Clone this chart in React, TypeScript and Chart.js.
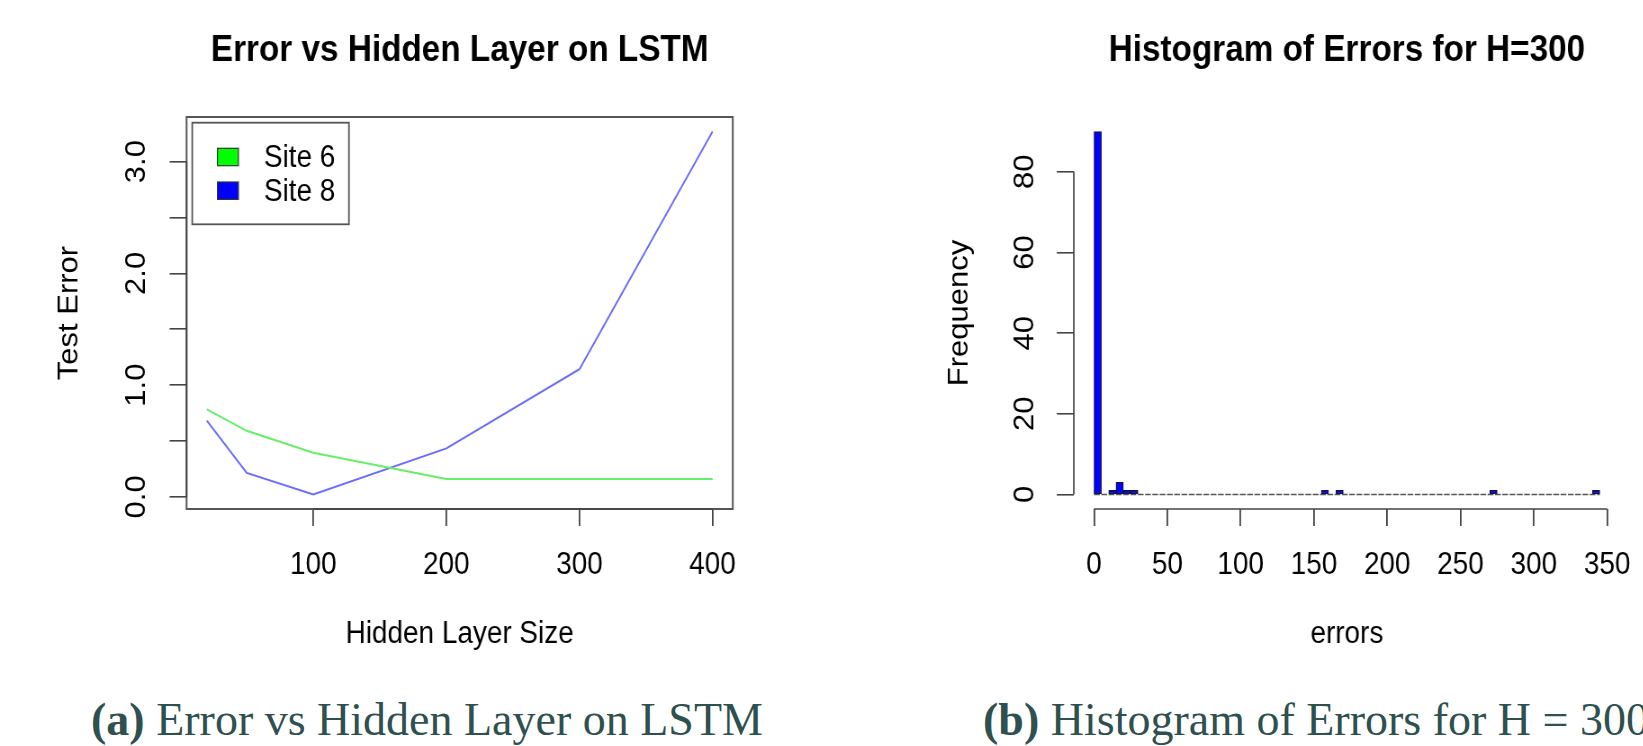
import React, { useEffect, useRef } from 'react';
import { Chart, registerables } from 'chart.js';

Chart.register(...registerables);

// ---------------- data ----------------
const hiddenLayerSizes = [20, 50, 100, 200, 300, 400];
const site6Error = [0.784, 0.592, 0.395, 0.161, 0.161, 0.161];
const site8Error = [0.682, 0.215, 0.022, 0.434, 1.143, 3.269];
const seriesLabels = ['Site 6', 'Site 8'];
const lineXTicks = [100, 200, 300, 400];
const lineYTicks = [0, 0.5, 1, 1.5, 2, 2.5, 3];
const lineYTickLabels = ['0.0', '', '1.0', '', '2.0', '', '3.0'];

const histBinCenters = [2.5, 12.5, 17.5, 22.5, 27.5, 157.5, 167.5, 272.5, 342.5];
const histCounts = [90, 1, 3, 1, 1, 1, 1, 1, 1];
const histRange = [0, 345];
const histXTicks = [0, 50, 100, 150, 200, 250, 300, 350];
const histYTicks = [0, 20, 40, 60, 80];
const histYTickLabels = ['0', '20', '40', '60', '80'];

// ---------------- styles / layout ----------------
const FONT = '"Liberation Sans", Arial, Helvetica, sans-serif';
const SX = 0.9; // horizontal squeeze of the original figure
const CANVAS_H = 690;
const PLOT_BOTTOM = 509;
const AXIS_FONT = 31;
const TITLE_FONT = 37;
const AXIS_COLOR = '#444';
const lineColors = ['#66ee66', '#6b6bff'];
const legendFills = ['#00ff00', '#0000ff'];

const LEFT_W = 911;
const LEFT_PLOT_L = 207.3;
const LEFT_PLOT_R = 814.2;
const RIGHT_W = 960;
const RIGHT_PLOT_L = 282;
const RIGHT_PLOT_R = 888.9;

Chart.defaults.font.family = FONT;
Chart.defaults.color = '#000';

type AxesCfg = {
  xTicks: number[];
  yTicks: number[];
  yLabels: string[];
  yLabelX: number;
  box?: boolean;
  baseline?: number[];
  legend?: boolean;
};

function rAxesPlugin(cfg: AxesCfg) {
  return {
    id: 'rAxes',
    beforeDatasetsDraw(chart: any) {
      if (!cfg.baseline) return;
      const ctx = chart.ctx;
      const x = chart.scales.x;
      const y = chart.scales.y;
      ctx.save();
      ctx.strokeStyle = '#555';
      ctx.lineWidth = 1.6;
      ctx.setLineDash([6.4, 1.7]);
      ctx.beginPath();
      const yy = y.getPixelForValue(0);
      ctx.moveTo(x.getPixelForValue(cfg.baseline[0]), yy);
      ctx.lineTo(x.getPixelForValue(cfg.baseline[1]), yy);
      ctx.stroke();
      ctx.restore();
    },
    afterDraw(chart: any) {
      const ctx = chart.ctx;
      const { left, right, top, bottom } = chart.chartArea;
      const x = chart.scales.x;
      const y = chart.scales.y;
      ctx.save();
      if (cfg.box) {
        ctx.strokeStyle = '#555';
        ctx.lineWidth = 2;
        ctx.strokeRect(left, top, right - left, bottom - top);
      }
      ctx.strokeStyle = AXIS_COLOR;
      ctx.lineWidth = 1.7;
      ctx.beginPath();
      ctx.moveTo(x.getPixelForValue(cfg.xTicks[0]), bottom);
      ctx.lineTo(x.getPixelForValue(cfg.xTicks[cfg.xTicks.length - 1]), bottom);
      ctx.stroke();
      ctx.beginPath();
      ctx.moveTo(left, y.getPixelForValue(cfg.yTicks[0]));
      ctx.lineTo(left, y.getPixelForValue(cfg.yTicks[cfg.yTicks.length - 1]));
      ctx.stroke();

      // rotated y tick labels (R style)
      ctx.fillStyle = '#000';
      ctx.font = `${AXIS_FONT}px ${FONT}`;
      ctx.textAlign = 'center';
      ctx.textBaseline = 'middle';
      cfg.yTicks.forEach((v, i) => {
        const lab = cfg.yLabels[i];
        if (!lab) return;
        ctx.save();
        ctx.translate(cfg.yLabelX, y.getPixelForValue(v));
        ctx.rotate(-Math.PI / 2);
        ctx.fillText(lab, 0, 0);
        ctx.restore();
      });

      if (cfg.legend) {
        const bx = left + 6.3;
        const by = top + 5.7;
        ctx.strokeStyle = '#555';
        ctx.lineWidth = 1.8;
        ctx.strokeRect(bx, by, 174.1, 101.6);
        const rows = [34.3, 68.0];
        chart.data.datasets.forEach((ds: any, i: number) => {
          const cy = by + rows[i];
          ctx.fillStyle = legendFills[i];
          ctx.fillRect(bx + 28, cy - 8.7, 23.3, 17.4);
          ctx.strokeStyle = '#333';
          ctx.lineWidth = 1.2;
          ctx.strokeRect(bx + 28, cy - 8.7, 23.3, 17.4);
          ctx.fillStyle = '#000';
          ctx.textAlign = 'left';
          ctx.textBaseline = 'middle';
          ctx.fillText(ds.label, bx + 79.7, cy + 1.5);
        });
      }
      ctx.restore();
    },
  };
}

function baseScales(opts: {
  xMin: number; xMax: number; yMin: number; yMax: number;
  xTicks: number[]; yTicks: number[]; plotLeft: number;
  xTitle: string; yTitle: string; yTitlePad: number;
}) {
  return {
    x: {
      type: 'linear',
      min: opts.xMin,
      max: opts.xMax,
      offset: false,
      afterBuildTicks: (s: any) => { s.ticks = opts.xTicks.map((v) => ({ value: v })); },
      afterFit: (s: any) => { s.height = CANVAS_H - PLOT_BOTTOM; },
      grid: { display: true, drawOnChartArea: false, drawTicks: true, tickLength: 17, color: AXIS_COLOR, lineWidth: 1.8, offset: false },
      border: { display: false },
      ticks: { font: { size: AXIS_FONT }, color: '#000', padding: 20.5, maxRotation: 0, minRotation: 0, autoSkip: false, callback: (v: any) => String(v) },
      title: { display: true, text: opts.xTitle, font: { size: AXIS_FONT }, color: '#000', padding: { top: 0, bottom: 37 } },
    },
    y: {
      type: 'linear',
      min: opts.yMin,
      max: opts.yMax,
      afterBuildTicks: (s: any) => { s.ticks = opts.yTicks.map((v) => ({ value: v })); },
      afterFit: (s: any) => { s.width = opts.plotLeft; },
      grid: { display: true, drawOnChartArea: false, drawTicks: true, tickLength: 18.9, color: AXIS_COLOR, lineWidth: 1.6 },
      border: { display: false },
      ticks: { display: false },
      title: { display: true, text: opts.yTitle, font: { size: AXIS_FONT }, color: '#000', padding: { top: opts.yTitlePad, bottom: 0 } },
    },
  };
}

function titleOpts(text: string) {
  return {
    display: true,
    text,
    fullSize: false,
    color: '#000',
    font: { size: TITLE_FONT, weight: 'bold', family: FONT },
    padding: { top: 28.1, bottom: 44.5 },
  };
}

function lineConfig(): any {
  const series = [site6Error, site8Error];
  return {
    type: 'line',
    data: {
      datasets: series.map((vals, i) => ({
        label: seriesLabels[i],
        data: hiddenLayerSizes.map((h, j) => ({ x: h, y: vals[j] })),
        borderColor: lineColors[i],
        backgroundColor: legendFills[i],
        borderWidth: 1.9,
        pointRadius: 0,
        fill: false,
        tension: 0,
      })),
    },
    options: {
      responsive: false,
      animation: false,
      devicePixelRatio: 1,
      layout: { padding: { left: 0, right: LEFT_W - LEFT_PLOT_R, top: 0, bottom: 0 } },
      plugins: {
        legend: { display: false },
        tooltip: { enabled: false },
        title: titleOpts('Error vs Hidden Layer on LSTM'),
      },
      scales: baseScales({
        xMin: 4.8, xMax: 415.2, yMin: -0.108, yMax: 3.399,
        xTicks: lineXTicks, yTicks: lineYTicks, plotLeft: LEFT_PLOT_L,
        xTitle: 'Hidden Layer Size', yTitle: 'Test Error', yTitlePad: 59,
      }),
    },
    plugins: [rAxesPlugin({ xTicks: lineXTicks, yTicks: lineYTicks, yLabels: lineYTickLabels, yLabelX: 152, box: true, legend: true })],
  };
}

function histConfig(): any {
  return {
    type: 'bar',
    data: {
      datasets: [{
        label: 'errors',
        data: histBinCenters.map((c, i) => ({ x: c, y: histCounts[i] })),
        backgroundColor: '#0000ff',
        borderColor: '#14143c',
        borderWidth: 1.2,
        borderSkipped: false,
        barPercentage: 1,
        categoryPercentage: 1,
      }],
    },
    options: {
      responsive: false,
      animation: false,
      devicePixelRatio: 1,
      layout: { padding: { left: 0, right: RIGHT_W - RIGHT_PLOT_R, top: 0, bottom: 0 } },
      plugins: {
        legend: { display: false },
        tooltip: { enabled: false },
        title: titleOpts('Histogram of Errors for H=300'),
      },
      scales: baseScales({
        xMin: -13.8, xMax: 358.8, yMin: -3.6, yMax: 93.6,
        xTicks: histXTicks, yTicks: histYTicks, plotLeft: RIGHT_PLOT_L,
        xTitle: 'errors', yTitle: 'Frequency', yTitlePad: 137,
      }),
    },
    plugins: [rAxesPlugin({ xTicks: histXTicks, yTicks: histYTicks, yLabels: histYTickLabels, yLabelX: 228, baseline: histRange })],
  };
}

function RChart({ left, width, makeConfig }: { left: number; width: number; makeConfig: () => any }) {
  const ref = useRef<HTMLCanvasElement>(null);
  useEffect(() => {
    const chart = new Chart(ref.current as HTMLCanvasElement, makeConfig());
    return () => chart.destroy();
  }, []);
  return (
    <div
      style={{
        position: 'absolute',
        left,
        top: 0,
        width,
        height: CANVAS_H,
        transform: `scaleX(${SX})`,
        transformOrigin: '0 0',
      }}
    >
      <canvas ref={ref} width={width} height={CANVAS_H} style={{ width, height: CANVAS_H, display: 'block' }} />
    </div>
  );
}

const captionStyle: React.CSSProperties = {
  position: 'absolute',
  top: 697,
  fontFamily: '"Liberation Serif", "Times New Roman", Times, serif',
  fontSize: 46,
  lineHeight: '46px',
  color: '#2e504f',
  whiteSpace: 'nowrap',
};

export default function App() {
  return (
    <div
      style={{
        position: 'absolute',
        left: 0,
        top: 0,
        width: 1643,
        height: 746,
        overflow: 'hidden',
        background: '#fff',
      }}
    >
      <RChart left={0} width={LEFT_W} makeConfig={lineConfig} />
      <RChart left={820} width={RIGHT_W} makeConfig={histConfig} />
      <div style={{ ...captionStyle, left: 91 }}>
        <b>(a)</b> Error vs Hidden Layer on LSTM
      </div>
      <div style={{ ...captionStyle, left: 983 }}>
        <b>(b)</b> Histogram of Errors for H = 300
      </div>
    </div>
  );
}
